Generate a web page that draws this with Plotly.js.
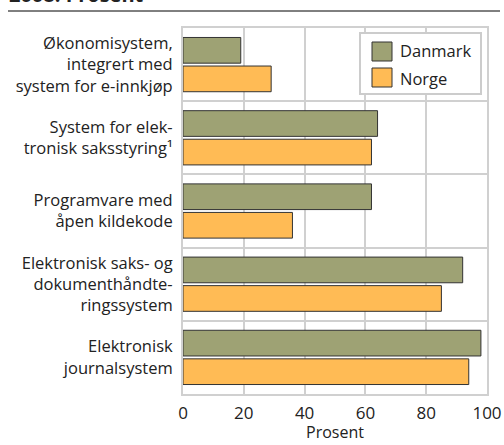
<!DOCTYPE html>
<html>
<head>
<meta charset="utf-8">
<script src="https://cdn.plot.ly/plotly-3.0.1.min.js"></script>
<style>html,body{margin:0;padding:0;background:#fff;}#chart{width:504px;height:445px;}</style>
</head>
<body>
<div id="chart"></div>
<script>
const categories = [
  "Økonomisystem,<br>integrert med<br>system for e-innkjøp",
  "System for elek-<br>tronisk saksstyring¹",
  "Programvare med<br>åpen kildekode",
  "Elektronisk saks- og<br>dokumenthåndte-<br>ringssystem",
  "Elektronisk<br>journalsystem"
];
const seriesNames = ["Danmark", "Norge"];
const danmark = [19, 64, 62, 92, 98];
const norge = [29, 62, 36, 85, 94];
const xTicks = [0, 20, 40, 60, 80, 100];
const titleText = "2008. Prosent";
const xTitle = "Prosent";

const colors = ["#9ea274", "#ffbb55"];
const FONT = "Open Sans, Noto Sans, sans-serif";

const L = 183, R = 487, T = 28, B = 394;
const px = x => (x - L) / (R - L);
const py = y => 1 - (y - T) / (B - T);

const traces = [danmark, norge].map((vals, i) => ({
  type: "bar",
  orientation: "h",
  name: seriesNames[i],
  x: vals,
  y: categories,
  marker: {color: colors[i], line: {color: "#333333", width: 1}},
  hoverinfo: "x+name"
}));

const shapes = [
  {type: "line", xref: "paper", yref: "paper", x0: px(8), x1: px(500), y0: py(11), y1: py(11), line: {color: "#000", width: 1}},
  {type: "rect", xref: "paper", yref: "paper", x0: px(360), x1: px(481), y0: py(94), y1: py(33), fillcolor: "#fff", line: {color: "#cccccc", width: 2}, layer: "above"},
  {type: "rect", xref: "paper", yref: "paper", x0: px(372), x1: px(392), y0: py(61), y1: py(42), fillcolor: colors[0], line: {color: "#333", width: 1}, layer: "above"},
  {type: "rect", xref: "paper", yref: "paper", x0: px(372), x1: px(392), y0: py(87), y1: py(68), fillcolor: colors[1], line: {color: "#333", width: 1}, layer: "above"}
];

const annotations = [
  {xref: "paper", yref: "paper", x: px(7), y: py(10), xanchor: "left", yanchor: "bottom", text: "<b>" + titleText + "</b>", showarrow: false, font: {family: FONT, size: 20, color: "#222"}},
  {xref: "paper", yref: "paper", x: px(398), y: py(51), xanchor: "left", yanchor: "middle", text: seriesNames[0], showarrow: false, font: {family: FONT, size: 16.5, color: "#222"}},
  {xref: "paper", yref: "paper", x: px(398), y: py(78), xanchor: "left", yanchor: "middle", text: seriesNames[1], showarrow: false, font: {family: FONT, size: 16.5, color: "#222"}},
  {xref: "paper", yref: "paper", x: 0.5, y: py(444), xanchor: "center", yanchor: "bottom", text: xTitle, showarrow: false, borderpad: 0, font: {family: FONT, size: 16, color: "#222"}}
];

const layout = {
  width: 504, height: 445,
  margin: {l: L, r: 504 - R, t: T, b: 445 - B, pad: 0},
  paper_bgcolor: "#fff", plot_bgcolor: "#fff",
  font: {family: FONT, size: 16, color: "#222"},
  showlegend: false,
  barmode: "group",
  bargap: 0.22,
  bargroupgap: 0.1,
  xaxis: {
    range: [0, 100],
    tickvals: xTicks,
    ticktext: xTicks.map(String),
    tickfont: {size: 17, color: "#222"},
    showgrid: true, gridcolor: "#d0d0d0", gridwidth: 2,
    showline: true, linecolor: "#d0d0d0", linewidth: 2, mirror: true,
    zeroline: false, ticks: "", ticklabelstandoff: 3
  },
  yaxis: {
    type: "category",
    autorange: "reversed",
    tickson: "boundaries",
    showgrid: true, gridcolor: "#d0d0d0", gridwidth: 2,
    showline: true, linecolor: "#d0d0d0", linewidth: 2, mirror: true,
    ticks: "", ticklabelstandoff: 5,
    tickfont: {size: 16.5, color: "#222"}
  },
  shapes: shapes,
  annotations: annotations
};

Plotly.newPlot("chart", traces, layout, {displayModeBar: false, staticPlot: true});
</script>
</body>
</html>
